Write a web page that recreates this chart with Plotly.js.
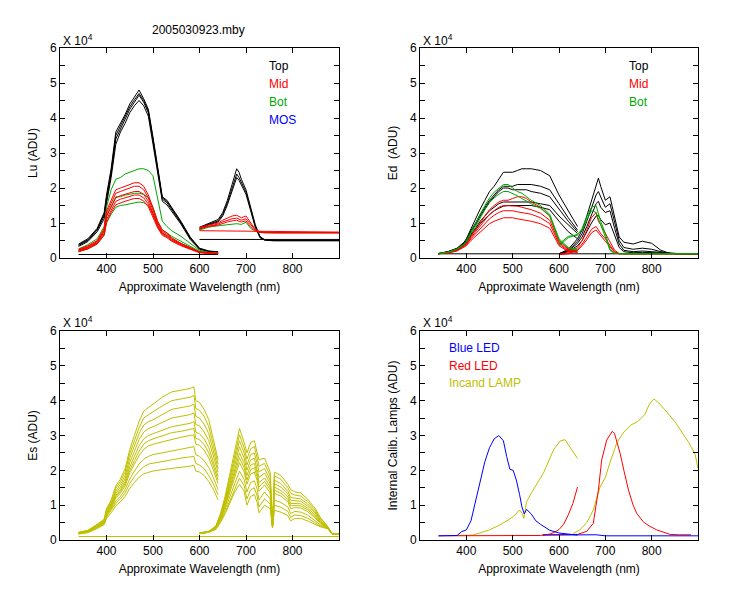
<!DOCTYPE html>
<html>
<head>
<meta charset="utf-8">
<script src="https://cdn.plot.ly/plotly-3.0.1.min.js"></script>
<style>html,body{margin:0;padding:0;background:#fff;}#chart{width:750px;height:600px;}</style>
</head>
<body>
<div id="chart"></div>
<script>
// ---------------- data (values in units of 10^4 ADU) ----------------
const CHART_TITLE = "2005030923.mby";
const X_TICKS = [400, 500, 600, 700, 800];
const Y_TICKS = [0, 1, 2, 3, 4, 5, 6];

// wavelength grids (nm)
const WL_A = [340,360,380,395,400,410,420,430,440,450,460,470,480,490,500,510,520,530,540,560,580,600,620,640];
const WL_B = [600,620,640,650,660,670,680,685,690,700,710,720,730,740,760,780,800,820,840,860,880,900];
const WL_FLAT_A = [340, 640];
const WL_FLAT_B = [600, 900];
const WL_FLAT_ALL = [340, 900];

// ---- Lu ----
const Lu_Top1 = [0.40,0.55,0.85,1.30,1.80,2.55,3.60,3.85,4.10,4.40,4.60,4.80,4.55,4.25,3.45,2.55,1.75,1.65,1.45,1.05,0.60,0.28,0.20,0.18];
const Lu_Top2 = [0.36,0.50,0.80,1.20,1.65,2.40,3.40,3.70,3.95,4.25,4.45,4.65,4.45,4.15,3.35,2.45,1.68,1.58,1.38,1.00,0.56,0.26,0.19,0.17];
const Lu_Top3 = [0.33,0.47,0.75,1.12,1.55,2.30,3.25,3.60,3.85,4.15,4.35,4.50,4.35,4.05,3.25,2.38,1.62,1.52,1.33,0.97,0.53,0.25,0.18,0.16];
const Lu_Top4 = [0.38,0.52,0.82,1.25,1.72,2.48,3.50,3.78,4.02,4.32,4.52,4.70,4.50,4.20,3.40,2.50,1.72,1.62,1.42,1.03,0.58,0.27,0.19,0.17];
const Lu_TopDarkA = [0.10, 0.10];
const Lu_Mid1 = [0.25,0.35,0.50,0.85,1.35,1.65,1.95,2.00,2.05,2.10,2.15,2.15,2.05,1.80,1.45,1.05,0.80,0.72,0.58,0.42,0.30,0.18,0.15,0.14];
const Lu_Mid2 = [0.23,0.32,0.47,0.80,1.28,1.55,1.85,1.90,1.95,2.00,2.05,2.05,1.95,1.72,1.38,1.00,0.76,0.68,0.55,0.40,0.28,0.17,0.14,0.13];
const Lu_Mid3 = [0.21,0.30,0.44,0.75,1.18,1.45,1.72,1.78,1.82,1.86,1.90,1.90,1.82,1.62,1.30,0.95,0.72,0.64,0.52,0.38,0.27,0.16,0.14,0.13];
const Lu_Mid4 = [0.20,0.28,0.42,0.70,1.10,1.38,1.62,1.68,1.72,1.76,1.80,1.80,1.72,1.54,1.24,0.90,0.68,0.61,0.50,0.37,0.26,0.16,0.13,0.12];
const Lu_Mid5 = [0.18,0.26,0.40,0.66,1.02,1.30,1.52,1.58,1.62,1.66,1.70,1.70,1.63,1.46,1.18,0.86,0.65,0.58,0.48,0.35,0.25,0.15,0.13,0.12];
const Lu_Bot1 = [0.26,0.38,0.55,0.90,1.45,1.95,2.25,2.30,2.40,2.45,2.50,2.55,2.55,2.50,2.35,1.65,1.05,0.90,0.78,0.62,0.42,0.22,0.16,0.15];
const Lu_Bot2 = [0.22,0.32,0.47,0.78,1.22,1.50,1.75,1.75,1.80,1.82,1.85,1.85,1.82,1.72,1.45,1.05,0.80,0.72,0.62,0.48,0.34,0.19,0.15,0.14];
const Lu_Bot3 = [0.18,0.26,0.40,0.65,1.00,1.25,1.45,1.50,1.52,1.55,1.58,1.60,1.58,1.50,1.28,0.92,0.70,0.64,0.55,0.42,0.30,0.17,0.14,0.13];
const Lu_TopB1 = [0.88,1.00,1.10,1.30,1.65,2.10,2.55,2.45,2.25,1.95,1.45,0.95,0.62,0.52,0.50,0.50,0.50,0.50,0.50,0.50,0.50,0.50];
const Lu_TopB2 = [0.85,0.97,1.06,1.25,1.58,2.00,2.40,2.30,2.15,1.88,1.40,0.90,0.60,0.52,0.50,0.50,0.50,0.50,0.50,0.50,0.50,0.50];
const Lu_TopB3 = [0.82,0.95,1.03,1.20,1.52,1.92,2.30,2.22,2.08,1.82,1.35,0.88,0.58,0.51,0.49,0.49,0.49,0.49,0.49,0.49,0.49,0.49];
const Lu_TopDarkB = [0.53, 0.53];
const Lu_MidB1 = [0.88,0.95,1.00,1.08,1.15,1.20,1.22,1.18,1.15,1.20,1.00,0.82,0.75,0.74,0.73,0.73,0.73,0.73,0.73,0.73,0.73,0.73];
const Lu_MidB2 = [0.85,0.92,0.97,1.03,1.08,1.12,1.14,1.10,1.08,1.12,0.95,0.80,0.74,0.73,0.72,0.72,0.72,0.72,0.72,0.72,0.72,0.72];
const Lu_MidB3 = [0.83,0.90,0.94,0.99,1.03,1.06,1.08,1.05,1.03,1.06,0.90,0.78,0.73,0.72,0.72,0.72,0.72,0.72,0.72,0.72,0.72,0.72];
const Lu_MidDarkB = [0.78, 0.74];
const Lu_BotB1 = [0.80,0.88,0.92,0.94,0.96,0.97,0.98,0.97,0.96,1.02,0.85,0.76,0.73,0.72,0.72,0.72,0.72,0.72,0.72,0.72,0.72,0.72];

// ---- Ed ----
const Ed_Top1 = [0.13,0.18,0.28,0.45,0.55,0.85,1.10,1.40,1.65,1.90,2.05,2.25,2.45,2.45,2.45,2.50,2.55,2.55,2.55,2.50,2.35,1.80,1.35,0.90];
const Ed_Top2 = [0.13,0.18,0.27,0.42,0.50,0.78,1.00,1.25,1.45,1.65,1.80,1.95,2.05,2.05,2.05,2.10,2.10,2.10,2.10,2.05,1.95,1.55,1.15,0.80];
const Ed_Top3 = [0.12,0.17,0.26,0.40,0.48,0.75,0.95,1.20,1.40,1.60,1.75,1.90,2.00,2.00,1.95,1.95,1.95,1.95,1.90,1.85,1.75,1.40,1.05,0.75];
const Ed_Top4 = [0.12,0.16,0.25,0.38,0.45,0.68,0.85,1.05,1.20,1.35,1.45,1.55,1.60,1.60,1.60,1.60,1.62,1.62,1.60,1.55,1.50,1.20,0.95,0.70];
const Ed_Top5 = [0.12,0.16,0.24,0.36,0.43,0.64,0.80,0.98,1.12,1.25,1.35,1.42,1.48,1.50,1.50,1.50,1.52,1.52,1.50,1.45,1.38,1.05,0.75,0.55];
const Ed_Dark = [0.12, 0.12];
const Ed_Mid1 = [0.12,0.16,0.24,0.36,0.42,0.62,0.80,1.00,1.20,1.38,1.50,1.60,1.65,1.65,1.70,1.75,1.75,1.70,1.60,1.45,1.20,0.50,0.25,0.20];
const Ed_Mid2 = [0.12,0.15,0.22,0.34,0.40,0.58,0.75,0.92,1.10,1.25,1.35,1.45,1.50,1.50,1.50,1.48,1.45,1.42,1.38,1.28,1.08,0.45,0.22,0.18];
const Ed_Mid3 = [0.12,0.15,0.21,0.32,0.38,0.55,0.70,0.85,1.00,1.12,1.22,1.30,1.35,1.35,1.35,1.32,1.30,1.28,1.25,1.15,0.98,0.40,0.20,0.17];
const Ed_Mid4 = [0.12,0.14,0.20,0.30,0.35,0.50,0.62,0.75,0.88,0.98,1.05,1.10,1.15,1.15,1.15,1.12,1.10,1.08,1.05,0.98,0.85,0.35,0.18,0.16];
const Ed_Bot1 = [0.13,0.17,0.26,0.40,0.48,0.75,0.98,1.25,1.50,1.72,1.88,2.00,2.10,2.10,2.00,1.90,1.85,1.75,1.65,1.50,1.25,0.55,0.30,0.25];
const Ed_Bot2 = [0.12,0.16,0.25,0.38,0.45,0.70,0.90,1.15,1.38,1.58,1.72,1.82,1.90,1.90,1.85,1.78,1.70,1.62,1.55,1.42,1.20,0.50,0.28,0.22];
const Ed_TopB1 = [0.12,0.25,0.55,0.80,1.20,1.65,2.10,2.28,2.05,1.65,1.75,1.15,0.60,0.45,0.40,0.48,0.42,0.22,0.13,0.12,0.12,0.12];
const Ed_TopB2 = [0.12,0.22,0.48,0.70,1.05,1.45,1.80,1.90,1.75,1.45,1.55,1.00,0.50,0.30,0.25,0.28,0.25,0.18,0.13,0.12,0.12,0.12];
const Ed_TopB3 = [0.12,0.20,0.42,0.60,0.90,1.25,1.55,1.62,1.45,1.30,1.35,0.85,0.40,0.22,0.18,0.20,0.18,0.14,0.12,0.12,0.12,0.12];
const Ed_TopB4 = [0.12,0.18,0.35,0.50,0.75,1.00,1.20,1.22,1.10,0.95,1.00,0.65,0.30,0.18,0.15,0.16,0.15,0.13,0.12,0.12,0.12,0.12];
const Ed_MidB1 = [0.10,0.15,0.30,0.50,0.80,1.15,1.30,1.05,0.95,0.70,0.45,0.22,0.13,0.12,0.12,0.12,0.12,0.12,0.12,0.12,0.12,0.12];
const Ed_MidB2 = [0.10,0.13,0.25,0.40,0.60,0.82,0.90,0.80,0.70,0.55,0.35,0.18,0.12,0.12,0.12,0.12,0.12,0.12,0.12,0.12,0.12,0.12];
const Ed_MidB3 = [0.10,0.12,0.22,0.35,0.52,0.72,0.80,0.72,0.65,0.50,0.32,0.16,0.12,0.12,0.12,0.12,0.12,0.12,0.12,0.12,0.12,0.12];
const Ed_BotB1 = [0.40,0.62,0.65,0.85,1.18,1.45,1.50,1.25,1.05,0.70,0.25,0.13,0.12,0.12,0.12,0.12,0.12,0.12,0.12,0.12,0.12,0.12];
const Ed_BotB2 = [0.35,0.58,0.68,0.80,1.10,1.35,1.30,1.15,0.95,0.60,0.22,0.13,0.12,0.12,0.12,0.12,0.12,0.12,0.12,0.12,0.12,0.12];

// ---- Es ----
const WL_ES_A = [340,360,380,395,400,410,420,430,440,450,460,470,480,490,500,520,540,560,580,588,592,600,610,620,630,640];
const WL_ES_B = [600,620,635,645,655,665,675,686,696,702,710,718,724,728,740,752,757,761,775,790,796,805,818,832,848,860,876,885,900];
const Es_A1  = [0.22,0.28,0.45,0.60,0.90,1.15,1.55,1.75,2.05,2.60,3.00,3.40,3.70,3.80,3.90,4.10,4.25,4.30,4.35,4.40,4.00,3.95,3.75,3.45,2.85,2.30];
const Es_A1b = [0.22,0.27,0.44,0.58,0.87,1.10,1.48,1.68,1.95,2.48,2.85,3.22,3.50,3.60,3.68,3.85,4.00,4.05,4.10,4.15,3.78,3.72,3.55,3.25,2.70,2.18];
const Es_A2  = [0.21,0.27,0.42,0.56,0.84,1.05,1.40,1.60,1.85,2.35,2.70,3.05,3.30,3.40,3.45,3.60,3.75,3.80,3.85,3.90,3.55,3.50,3.32,3.05,2.55,2.05];
const Es_A2b = [0.20,0.26,0.41,0.54,0.81,1.02,1.34,1.52,1.76,2.22,2.55,2.88,3.10,3.20,3.25,3.38,3.50,3.55,3.60,3.65,3.32,3.28,3.10,2.85,2.40,1.95];
const Es_A3  = [0.20,0.25,0.40,0.52,0.78,0.98,1.28,1.45,1.68,2.10,2.40,2.70,2.90,3.00,3.05,3.15,3.25,3.30,3.35,3.40,3.10,3.05,2.90,2.65,2.25,1.82];
const Es_A3b = [0.19,0.24,0.39,0.51,0.76,0.95,1.24,1.40,1.62,2.00,2.28,2.55,2.75,2.85,2.90,2.98,3.08,3.12,3.18,3.20,2.92,2.88,2.74,2.50,2.12,1.72];
const Es_A4  = [0.19,0.24,0.38,0.50,0.74,0.92,1.20,1.35,1.55,1.92,2.18,2.42,2.60,2.70,2.75,2.82,2.90,2.95,3.00,3.02,2.75,2.72,2.58,2.35,2.00,1.62];
const Es_A5  = [0.18,0.23,0.36,0.48,0.70,0.88,1.12,1.25,1.45,1.75,1.98,2.18,2.32,2.40,2.45,2.50,2.55,2.60,2.65,2.68,2.45,2.40,2.28,2.08,1.78,1.45];
const Es_A6  = [0.18,0.22,0.35,0.46,0.66,0.84,1.05,1.18,1.35,1.62,1.82,1.98,2.10,2.18,2.20,2.25,2.30,2.35,2.38,2.40,2.20,2.15,2.05,1.85,1.60,1.30];
const Es_A7  = [0.17,0.21,0.33,0.44,0.62,0.78,0.98,1.10,1.25,1.48,1.65,1.80,1.90,1.95,1.98,2.02,2.05,2.10,2.12,2.15,1.98,1.95,1.85,1.68,1.45,1.15];
const Es_B1  = [0.20,0.25,0.40,0.75,1.25,1.85,2.50,3.20,2.80,2.50,2.80,2.85,2.50,2.30,2.35,1.95,0.40,1.95,1.85,1.60,1.45,1.38,1.35,1.18,0.92,0.65,0.38,0.18,0.18];
const Es_B1b = [0.20,0.25,0.39,0.72,1.18,1.75,2.36,3.02,2.65,2.32,2.62,2.68,2.35,2.12,2.20,1.84,0.40,1.84,1.74,1.50,1.34,1.29,1.26,1.11,0.87,0.62,0.38,0.18,0.18];
const Es_B2  = [0.20,0.24,0.38,0.70,1.12,1.65,2.22,2.85,2.50,2.15,2.45,2.50,2.20,1.95,2.05,1.72,0.39,1.72,1.62,1.40,1.22,1.20,1.18,1.04,0.82,0.58,0.37,0.18,0.18];
const Es_B2b = [0.19,0.24,0.37,0.68,1.07,1.56,2.10,2.68,2.35,2.00,2.30,2.35,2.06,1.80,1.92,1.62,0.38,1.62,1.52,1.32,1.14,1.12,1.11,0.98,0.78,0.55,0.36,0.18,0.18];
const Es_B3  = [0.19,0.24,0.36,0.65,1.02,1.48,1.98,2.50,2.20,1.85,2.15,2.20,1.92,1.65,1.78,1.52,0.38,1.52,1.42,1.24,1.05,1.05,1.04,0.92,0.73,0.52,0.36,0.18,0.18];
const Es_B3b = [0.19,0.23,0.35,0.62,0.98,1.42,1.88,2.36,2.08,1.72,2.02,2.08,1.81,1.52,1.68,1.44,0.37,1.43,1.34,1.17,0.98,0.99,0.98,0.87,0.68,0.50,0.35,0.17,0.17];
const Es_B4  = [0.19,0.23,0.35,0.60,0.95,1.35,1.78,2.22,1.95,1.60,1.90,1.95,1.70,1.40,1.58,1.35,0.37,1.34,1.26,1.10,0.90,0.93,0.92,0.82,0.64,0.47,0.35,0.17,0.17];
const Es_B5  = [0.18,0.23,0.33,0.56,0.87,1.22,1.60,1.98,1.74,1.38,1.65,1.70,1.46,1.15,1.38,1.18,0.36,1.15,1.08,0.95,0.76,0.82,0.80,0.72,0.56,0.43,0.34,0.17,0.17];
const Es_B6  = [0.18,0.22,0.32,0.53,0.80,1.12,1.47,1.78,1.56,1.18,1.44,1.50,1.26,0.95,1.18,1.03,0.35,1.00,0.94,0.82,0.65,0.72,0.70,0.63,0.50,0.40,0.33,0.17,0.17];
const Es_B7  = [0.18,0.22,0.30,0.50,0.75,1.05,1.35,1.60,1.40,1.00,1.25,1.30,1.08,0.78,1.00,0.90,0.35,0.85,0.80,0.70,0.55,0.62,0.62,0.55,0.45,0.38,0.32,0.17,0.17];
const Es_Dark = [0.10, 0.10];

// ---- Internal calibration lamps ----
const WL_BLUE_A = [340,380,390,400,410,420,430,440,450,460,470,480,487,494,501,508,515,520,525,530,540,550,560,570,580,600,620,640];
const Blue_A = [0.12,0.13,0.24,0.29,0.55,1.10,1.65,2.25,2.65,2.90,3.00,2.85,2.40,2.03,2.00,1.72,1.30,0.95,0.75,0.88,0.75,0.55,0.45,0.36,0.28,0.20,0.16,0.14];
const WL_BLUE_B = [565,640,660,680,700,900];
const Blue_B = [0.14,0.14,0.16,0.15,0.12,0.12];
const WL_RED_A = [340,560,580,590,600,610,620,630,640];
const Red_A = [0.12,0.13,0.17,0.22,0.30,0.45,0.72,1.05,1.52];
const WL_RED_B = [565,600,640,660,674,685,692,703,715,720,732,740,750,760,768,782,795,811,840,860,885];
const Red_B = [0.15,0.15,0.16,0.25,0.48,1.43,2.29,2.87,3.12,3.05,2.48,2.00,1.43,1.00,0.76,0.52,0.40,0.29,0.16,0.15,0.15];
const WL_LAMP_A = [380,414,450,472,490,501,515,521,524,530,544,566,588,602,613,624,634,640];
const Lamp_A = [0.13,0.14,0.29,0.43,0.57,0.67,0.86,0.76,0.62,1.10,1.43,1.91,2.58,2.84,2.88,2.67,2.48,2.34];
const WL_LAMP_B = [631,645,660,674,688,700,712,725,740,755,770,785,795,805,818,835,850,865,880,894,900];
const Lamp_B = [0.19,0.29,0.50,0.86,1.50,1.80,2.30,2.80,3.10,3.30,3.40,3.60,3.90,4.05,3.90,3.65,3.40,3.10,2.80,2.45,2.05];

// ---------------- styling ----------------
const BLACK = '#000000', RED = '#ff0000', GREEN = '#00a800', BLUE = '#0000ff', OLIVE = '#c0c000';
const FONT = 'Liberation Sans, Arial, sans-serif';

const traces = [];
function add(x, y, color, ax) {
  traces.push({
    x: x, y: y, type: 'scatter', mode: 'lines',
    line: {color: color, width: 1},
    xaxis: 'x' + ax, yaxis: 'y' + ax,
    hoverinfo: 'skip', showlegend: false
  });
}

// Lu (axis 1)
[Lu_Top1, Lu_Top2, Lu_Top3, Lu_Top4].forEach(s => add(WL_A, s, BLACK, ''));
add(WL_FLAT_A, Lu_TopDarkA, BLACK, '');
[Lu_TopB1, Lu_TopB2, Lu_TopB3].forEach(s => add(WL_B, s, BLACK, ''));
add(WL_FLAT_B, Lu_TopDarkB, BLACK, '');
[Lu_Bot1, Lu_Bot2, Lu_Bot3].forEach(s => add(WL_A, s, GREEN, ''));
add(WL_B, Lu_BotB1, GREEN, '');
[Lu_Mid1, Lu_Mid2, Lu_Mid3, Lu_Mid4, Lu_Mid5].forEach(s => add(WL_A, s, RED, ''));
[Lu_MidB1, Lu_MidB2, Lu_MidB3].forEach(s => add(WL_B, s, RED, ''));
add(WL_FLAT_B, Lu_MidDarkB, RED, '');

// Ed (axis 2)
[Ed_Top1, Ed_Top2, Ed_Top3, Ed_Top4, Ed_Top5].forEach(s => add(WL_A, s, BLACK, '2'));
[Ed_TopB1, Ed_TopB2, Ed_TopB3, Ed_TopB4].forEach(s => add(WL_B, s, BLACK, '2'));
add(WL_FLAT_ALL, Ed_Dark, BLACK, '2');
[Ed_Mid1, Ed_Mid2, Ed_Mid3, Ed_Mid4].forEach(s => add(WL_A, s, RED, '2'));
[Ed_MidB1, Ed_MidB2, Ed_MidB3].forEach(s => add(WL_B, s, RED, '2'));
[Ed_Bot1, Ed_Bot2].forEach(s => add(WL_A, s, GREEN, '2'));
[Ed_BotB1, Ed_BotB2].forEach(s => add(WL_B, s, GREEN, '2'));

// Es (axis 3)
[Es_A1, Es_A1b, Es_A2, Es_A2b, Es_A3, Es_A3b, Es_A4, Es_A5, Es_A6, Es_A7].forEach(s => add(WL_ES_A, s, OLIVE, '3'));
[Es_B1, Es_B1b, Es_B2, Es_B2b, Es_B3, Es_B3b, Es_B4, Es_B5, Es_B6, Es_B7].forEach(s => add(WL_ES_B, s, OLIVE, '3'));
add(WL_FLAT_ALL, Es_Dark, OLIVE, '3');

// Calibration lamps (axis 4)
add(WL_LAMP_A, Lamp_A, OLIVE, '4');
add(WL_LAMP_B, Lamp_B, OLIVE, '4');
add(WL_RED_A, Red_A, RED, '4');
add(WL_RED_B, Red_B, RED, '4');
add(WL_BLUE_A, Blue_A, BLUE, '4');
add(WL_BLUE_B, Blue_B, BLUE, '4');

function xAxis(domain, anchor) {
  return {
    domain: domain, anchor: anchor, range: [300, 900],
    tickmode: 'array', tickvals: X_TICKS, ticktext: X_TICKS.map(String),
    ticks: 'inside', ticklen: 5, tickwidth: 1, tickcolor: '#000',
    showline: true, linecolor: '#000', linewidth: 1, mirror: 'ticks',
    showgrid: false, zeroline: false,
    tickfont: {family: FONT, size: 12, color: '#000'},
    title: {text: 'Approximate Wavelength (nm)', font: {family: FONT, size: 12, color: '#000'}, standoff: 7}
  };
}
function yAxis(domain, anchor, title) {
  return {
    domain: domain, anchor: anchor, range: [0, 6],
    tickmode: 'array', tickvals: Y_TICKS, ticktext: Y_TICKS.map(String),
    ticks: 'inside', ticklen: 5, tickwidth: 1, tickcolor: '#000',
    minor: {tickmode: 'linear', tick0: 0.5, dtick: 1, ticks: 'inside', ticklen: 5, tickcolor: '#000', showgrid: false},
    showline: true, linecolor: '#000', linewidth: 1, mirror: 'ticks',
    showgrid: false, zeroline: false,
    tickfont: {family: FONT, size: 12, color: '#000'},
    title: {text: title, font: {family: FONT, size: 12, color: '#000'}, standoff: 9}
  };
}

const W = 750, H = 600;
const px = v => v / W, py = v => 1 - v / H;
const dxL = [px(60), px(339)], dxR = [px(420), px(698)];
const dyT = [py(258), py(48)], dyB = [py(540), py(331)];

function note(text, xp, yp, color, anchor) {
  return {text: text, xref: 'paper', yref: 'paper', x: px(xp), y: py(yp),
    xanchor: anchor || 'left', yanchor: 'middle', showarrow: false,
    font: {family: FONT, size: 12, color: color || '#000'}};
}

const layout = {
  width: W, height: H,
  margin: {l: 0, r: 0, t: 0, b: 0},
  paper_bgcolor: '#fff', plot_bgcolor: '#fff',
  showlegend: false,
  xaxis: xAxis(dxL, 'y'), yaxis: yAxis(dyT, 'x', 'Lu (ADU)'),
  xaxis2: xAxis(dxR, 'y2'), yaxis2: yAxis(dyT, 'x2', 'Ed\u00a0 (ADU)'),
  xaxis3: xAxis(dxL, 'y3'), yaxis3: yAxis(dyB, 'x3', 'Es (ADU)'),
  xaxis4: xAxis(dxR, 'y4'), yaxis4: yAxis(dyB, 'x4', 'Internal Calib. Lamps (ADU)'),
  annotations: [
    note(CHART_TITLE, 198, 30, '#000', 'center'),
    note('X 10<sup>4</sup>', 61, 40), note('X 10<sup>4</sup>', 421, 40),
    note('X 10<sup>4</sup>', 61, 322), note('X 10<sup>4</sup>', 421, 322),
    note('Top', 267, 66, BLACK), note('Mid', 267, 84, RED),
    note('Bot', 267, 102, GREEN), note('MOS', 267, 120, BLUE),
    note('Top', 627, 66, BLACK), note('Mid', 627, 84, RED), note('Bot', 627, 102, GREEN),
    note('Blue LED', 447, 348, BLUE), note('Red LED', 447, 366, RED), note('Incand LAMP', 447, 383, OLIVE)
  ]
};

Plotly.newPlot('chart', traces, layout, {staticPlot: true, displayModeBar: false});
</script>
</body>
</html>
